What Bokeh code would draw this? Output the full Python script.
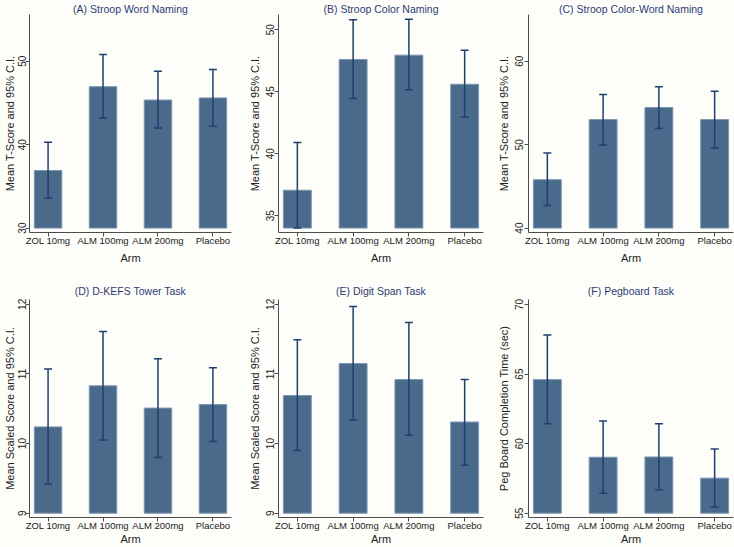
from bokeh.plotting import figure
from bokeh.models import Range1d, FixedTicker, ColumnDataSource, Whisker, TeeHead
from bokeh.layouts import column, row
from bokeh.embed import file_html
from bokeh.resources import INLINE

cats = ["ZOL 10mg", "ALM 100mg", "ALM 200mg", "Placebo"]

titles = ["(A) Stroop Word Naming", "(B) Stroop Color Naming", "(C) Stroop Color-Word Naming",
          "(D) D-KEFS Tower Task", "(E) Digit Span Task", "(F) Pegboard Task"]
ylabels = ["Mean T-Score and 95% C.I.", "Mean T-Score and 95% C.I.", "Mean T-Score and 95% C.I.",
           "Mean Scaled Score and 95% C.I.", "Mean Scaled Score and 95% C.I.",
           "Peg Board Completion Time (sec)"]

A_mean = [36.9, 46.95, 45.35, 45.6]
A_lo = [33.6, 43.2, 42.0, 42.2]
A_hi = [40.3, 50.8, 48.8, 49.0]

B_mean = [37.05, 47.6, 47.95, 45.6]
B_lo = [34.0, 44.45, 45.15, 42.95]
B_hi = [40.9, 50.8, 50.85, 48.35]

C_mean = [45.8, 53.0, 54.45, 53.0]
C_lo = [42.7, 49.95, 51.95, 49.6]
C_hi = [49.0, 56.0, 56.95, 56.4]

D_mean = [10.24, 10.83, 10.51, 10.56]
D_lo = [9.42, 10.05, 9.8, 10.03]
D_hi = [11.07, 11.61, 11.22, 11.09]

E_mean = [10.69, 11.15, 10.92, 10.31]
E_lo = [9.9, 10.34, 10.12, 9.69]
E_hi = [11.49, 11.97, 11.74, 10.92]

F_mean = [64.6, 59.02, 59.04, 57.52]
F_lo = [61.42, 56.44, 56.68, 55.45]
F_hi = [67.8, 61.63, 61.42, 59.62]

y_base = [30, 34, 40, 9, 9, 55]
y_ticks = [[30, 40, 50], [35, 40, 45, 50], [40, 50, 60], [9, 10, 11, 12], [9, 10, 11, 12], [55, 60, 65, 70]]
y_ranges = [(29.47, 55.6), (33.64, 51.23), (39.47, 65.6), (8.938, 12.07), (8.938, 12.07), (54.69, 70.36)]

means = [A_mean, B_mean, C_mean, D_mean, E_mean, F_mean]
los = [A_lo, B_lo, C_lo, D_lo, E_lo, F_lo]
his = [A_hi, B_hi, C_hi, D_hi, E_hi, F_hi]

BG = "#fdfdfa"
BAR = "#4a6a8c"
BAR_EDGE = "#7d95b0"
ERR = "#1f3f6e"
AXIS = "#4d4d4d"
TITLE = "#2e3b72"
FONT = "Liberation Sans"

widths = [245, 244, 245]
heights = [274, 273]
lefts = [27, 32, 39]
rights = [14, 6, 1]
tops = [13, 25]
bottoms = [42, 30]
title_standoff = [0, 5]
xlab_standoff = [3, -1]
ylab_standoff = [-1, 0, 1]
yaxis_standoff = [0, 3, 3]


def make(i):
    r, c = divmod(i, 3)
    p = figure(width=widths[c], height=heights[r], output_backend="svg", toolbar_location=None,
               x_range=Range1d(-0.338, 3.338), y_range=Range1d(*y_ranges[i]),
               background_fill_color=BG, border_fill_color=BG,
               min_border_left=lefts[c], min_border_right=rights[c],
               min_border_top=tops[r], min_border_bottom=bottoms[r])
    p.outline_line_color = None
    p.grid.grid_line_color = None
    xs = list(range(len(cats)))
    src = ColumnDataSource(dict(x=xs, top=means[i], bottom=[y_base[i]] * len(cats),
                                lo=los[i], hi=his[i]))
    p.vbar(x="x", top="top", bottom="bottom", width=0.5, source=src,
           fill_color=BAR, line_color=BAR_EDGE, line_width=1)
    w = Whisker(base="x", lower="lo", upper="hi", source=src, line_color=ERR, line_width=1.5,
                level="overlay",
                upper_head=TeeHead(size=8, line_color=ERR, line_width=1.5),
                lower_head=TeeHead(size=8, line_color=ERR, line_width=1.5))
    p.add_layout(w)

    p.title.text = titles[i]
    p.title.align = "center"
    p.title.text_font = FONT
    p.title.text_font_size = "10.5px"
    p.title.text_font_style = "normal"
    p.title.text_color = TITLE
    p.title.standoff = title_standoff[r]

    xa = p.xaxis[0]
    xa.ticker = FixedTicker(ticks=xs)
    xa.major_label_overrides = {k: v for k, v in zip(xs, cats)}
    xa.axis_label = "Arm"
    ya = p.yaxis[0]
    ya.ticker = FixedTicker(ticks=y_ticks[i])
    ya.axis_label = ylabels[i]
    ya.major_label_orientation = "vertical"
    for ax in (xa, ya):
        ax.axis_line_color = AXIS
        ax.major_tick_line_color = AXIS
        ax.minor_tick_line_color = None
        ax.major_tick_out = 4
        ax.major_tick_in = 0
        ax.major_label_text_font = FONT
        ax.major_label_text_color = "#222222"
        ax.axis_label_text_font = FONT
        ax.axis_label_text_font_style = "normal"
        ax.axis_label_text_font_size = "11px"
        ax.axis_label_text_color = "#222222"
    xa.major_label_text_font_size = "9.5px"
    xa.major_label_standoff = -2
    xa.axis_label_standoff = xlab_standoff[r]
    ya.major_label_text_font_size = "10px"
    ya.major_label_standoff = ylab_standoff[c]
    ya.axis_label_standoff = yaxis_standoff[c]
    return p


plots = [make(i) for i in range(6)]
layout = column(row(*plots[:3], spacing=0), row(*plots[3:], spacing=0), spacing=0)
layout.styles = {"background-color": BG}

open("out.html", "w").write(file_html(layout, INLINE))
